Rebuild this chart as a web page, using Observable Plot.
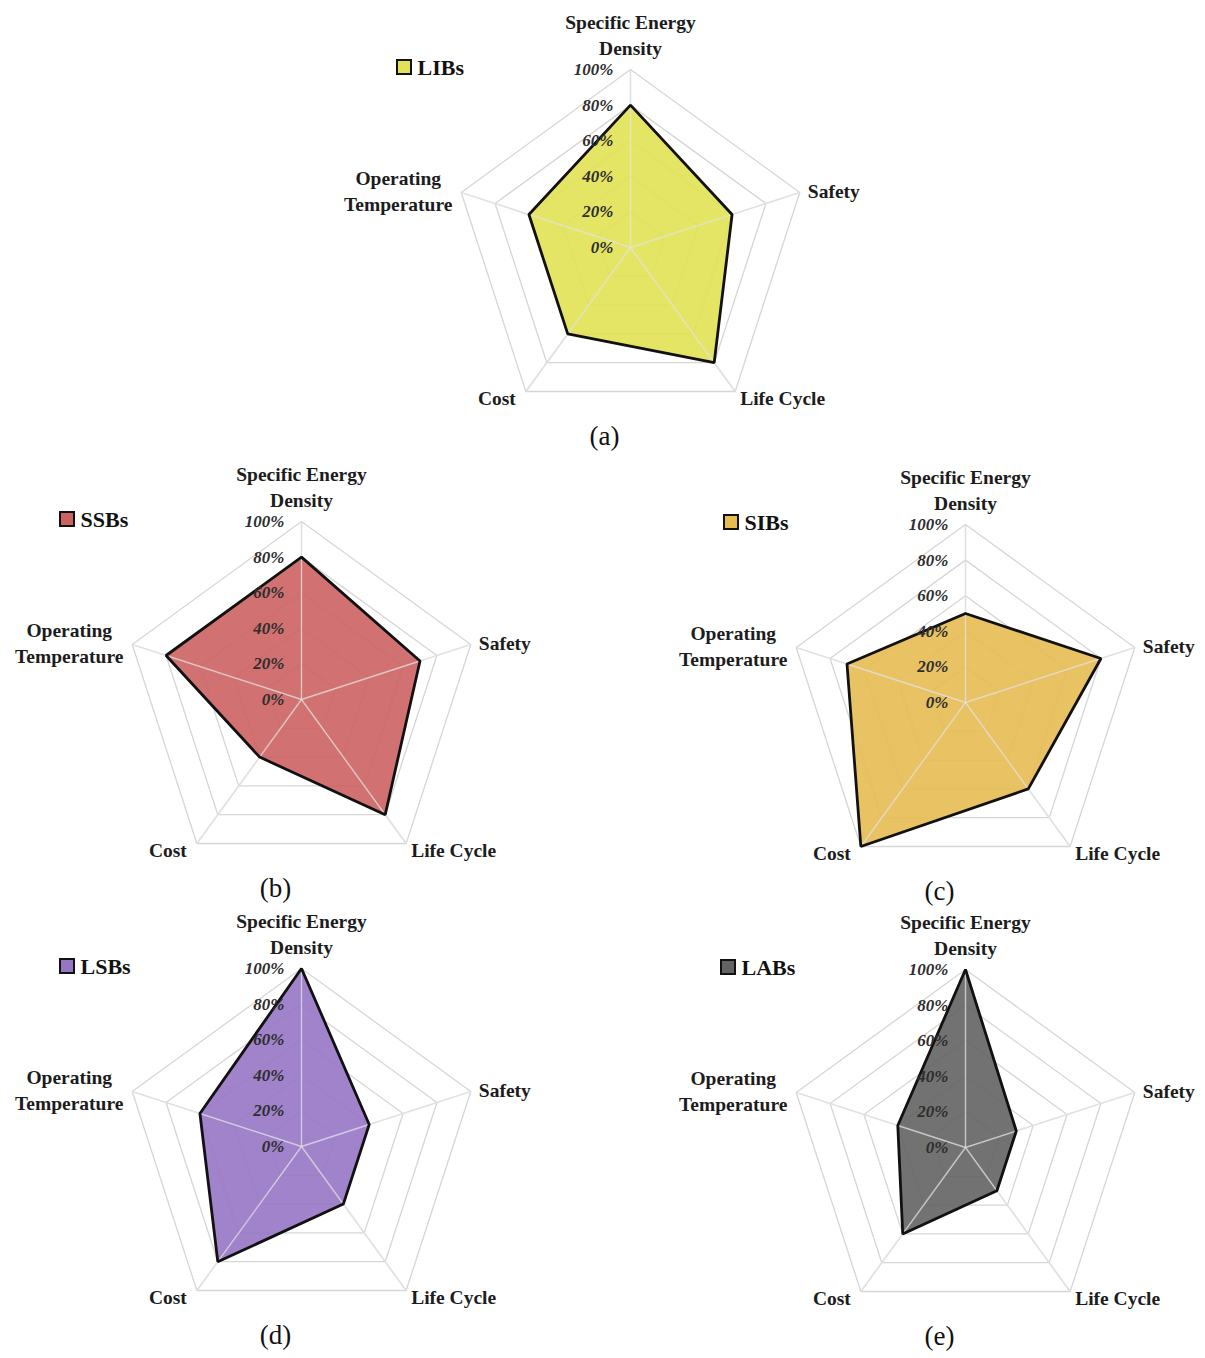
<!DOCTYPE html>
<html>
<head>
<meta charset="utf-8">
<script src="https://cdn.jsdelivr.net/npm/d3@7"></script>
<script src="https://cdn.jsdelivr.net/npm/@observablehq/plot@0.6"></script>
<style>
  html, body { margin: 0; padding: 0; background: #fff; }
  #figure { position: relative; width: 1205px; height: 1358px; overflow: hidden; }
  #figure svg { position: absolute; max-width: none; }
  g[aria-label="shadow"] { filter: blur(2px); }
</style>
</head>
<body>
<div id="figure"></div>
<script>
// Radar axes, clockwise from the top
const axes = ["Specific Energy\nDensity", "Safety", "Life Cycle", "Cost", "Operating\nTemperature"];
// Battery technologies, one panel each
const batteries = ["LIBs", "SSBs", "SIBs", "LSBs", "LABs"];
const panelTags = ["(a)", "(b)", "(c)", "(d)", "(e)"];
// Scores (%) in axis order
const libs = [80, 60, 80, 60, 60];
const ssbs = [80, 70, 80, 40, 80];
const sibs = [50, 80, 60, 100, 70];
const lsbs = [100, 40, 40, 80, 60];
const labs = [100, 30, 30, 60, 40];
const fills = ["#e2e254", "#cc6262", "#e6bb52", "#9676c4", "#636363"];
// Radial grid
const ringLevels = [0, 20, 40, 60, 80, 100];
const tickLabels = ["0%", "20%", "40%", "60%", "80%", "100%"];

const seriesValues = [libs, ssbs, sibs, lsbs, labs];

// Page layout: centre of each radar in page pixels
const panelCenters = [[630, 247], [301, 699], [965, 702], [301, 1146], [965, 1147]];
const legendOffsets = [-233, -241, -241, -241, -244];

const R = 178;                 // pixels for 100 %
const W = 525, H = 470;        // size of each panel svg
const OX = 285, OY = 250;      // radar centre inside the svg
const serif = "Liberation Serif, Times New Roman, serif";

const angle = i => Math.PI / 2 - i * 2 * Math.PI / axes.length;
const px = v => v / R;         // pixel offset -> scale unit
const polarX = (i, pct) => (pct / 100) * Math.cos(angle(i));
const polarY = (i, pct) => (pct / 100) * Math.sin(angle(i));

// Where each axis title sits relative to its outer vertex (pixels, y down)
const labelLayout = [
  {dx: 0, dy: -35.5, anchor: "middle"},
  {dx: 8, dy: -3, anchor: "start"},
  {dx: 5, dy: 5, anchor: "start"},
  {dx: -10, dy: 5, anchor: "end"},
  {dx: -63, dy: -2.5, anchor: "middle"}
];

const figure = document.getElementById("figure");

batteries.forEach((name, p) => {
  const values = seriesValues[p];
  const color = fills[p];
  const [cx, cy] = panelCenters[p];

  const points = values.map((v, i) => ({axis: axes[i], i, v}));
  const rings = ringLevels.slice(1).flatMap(level => axes.map((a, i) => ({level, i})));
  const spokes = axes.map((a, i) => ({i}));
  const ticks = ringLevels.map((lv, k) => ({lv, text: tickLabels[k]}));

  const axisTitles = axes.map((a, i) => {
    const L = labelLayout[i];
    return Plot.text([a], {
      x: () => polarX(i, 100) + px(L.dx),
      y: () => polarY(i, 100) - px(L.dy),
      text: d => d,
      textAnchor: L.anchor,
      lineAnchor: "middle",
      lineHeight: 1.3,
      fontFamily: serif,
      fontWeight: "bold",
      fontSize: 19.5,
      fill: "#1c1c1c"
    });
  });

  const legendX = legendOffsets[p];
  const chart = Plot.plot({
    width: W,
    height: H,
    margin: 0,
    x: {domain: [px(-OX), px(W - OX)], range: [0, W], axis: null},
    y: {domain: [px(-(H - OY)), px(OY)], range: [H, 0], axis: null},
    style: {background: "transparent", overflow: "visible", fontFamily: serif},
    marks: [
      // concentric pentagons
      Plot.line(rings, {
        x: d => polarX(d.i, d.level),
        y: d => polarY(d.i, d.level),
        z: "level",
        curve: "linear-closed",
        stroke: "#d6d6d6",
        strokeWidth: 1.3
      }),
      Plot.link(spokes, {
        x1: 0, y1: 0,
        x2: d => polarX(d.i, 100),
        y2: d => polarY(d.i, 100),
        stroke: "#d6d6d6",
        strokeWidth: 1.3
      }),
      // soft shadow under the filled polygon
      Plot.line(points, {
        x: d => polarX(d.i, d.v),
        y: d => polarY(d.i, d.v),
        curve: "linear-closed",
        fill: "#000",
        fillOpacity: 0.3,
        stroke: "none",
        dx: 3, dy: 3,
        ariaLabel: "shadow"
      }),
      Plot.line(points, {
        x: d => polarX(d.i, d.v),
        y: d => polarY(d.i, d.v),
        curve: "linear-closed",
        fill: color,
        fillOpacity: 0.9,
        stroke: "none"
      }),
      // spokes remain visible through the fill
      Plot.link(spokes, {
        x1: 0, y1: 0,
        x2: d => polarX(d.i, 100),
        y2: d => polarY(d.i, 100),
        stroke: "#e4e4e4",
        strokeOpacity: 0.75,
        strokeWidth: 1.4
      }),
      Plot.line(points, {
        x: d => polarX(d.i, d.v),
        y: d => polarY(d.i, d.v),
        curve: "linear-closed",
        fill: "none",
        stroke: "#111",
        strokeWidth: 2.8,
        strokeLinejoin: "miter"
      }),
      // radial tick labels
      Plot.text(ticks, {
        x: px(-17),
        y: d => d.lv / 100,
        text: "text",
        textAnchor: "end",
        fontFamily: serif,
        fontStyle: "italic",
        fontWeight: "bold",
        fontSize: 17,
        fill: "#2e2e2e"
      }),
      ...axisTitles,
      // legend swatch and name
      Plot.rect([name], {
        x1: px(legendX), x2: px(legendX + 14),
        y1: px(173), y2: px(187),
        fill: color,
        stroke: "#111",
        strokeWidth: 2
      }),
      Plot.text([name], {
        x: px(legendX + 20),
        y: px(180),
        text: d => d,
        textAnchor: "start",
        fontFamily: serif,
        fontWeight: "bold",
        fontSize: 22,
        fill: "#111"
      }),
      // panel tag
      Plot.text([panelTags[p]], {
        x: px(-26),
        y: px(-189),
        text: d => d,
        textAnchor: "middle",
        fontFamily: serif,
        fontSize: 27,
        fill: "#111"
      })
    ]
  });
  chart.style.left = (cx - OX) + "px";
  chart.style.top = (cy - OY) + "px";
  figure.appendChild(chart);
});
</script>
</body>
</html>
